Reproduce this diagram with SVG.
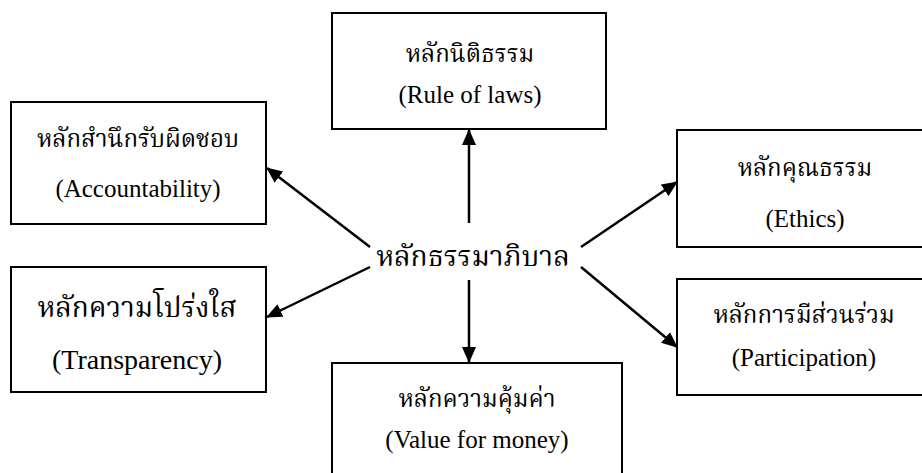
<svg xmlns="http://www.w3.org/2000/svg" width="922" height="473" viewBox="0 0 922 473">
<style>
.box{fill:#fff;stroke:#000;stroke-width:2}
.th{font-family:"Liberation Serif","Noto Serif Thai","Noto Sans Thai",serif;font-size:24px;fill:#000;text-anchor:middle}
.en{font-family:"Liberation Serif",serif;font-size:25px;fill:#000;text-anchor:middle}
.con{stroke:#000;stroke-width:2.5;fill:none;marker-end:url(#ah)}
</style>
<defs>
<marker id="ah" markerUnits="userSpaceOnUse" markerWidth="16" markerHeight="14" refX="15" refY="7" orient="auto" viewBox="0 0 16 14">
<path d="M0,0 L16,7 L0,14 z" fill="#000"/>
</marker>
</defs>
<rect width="922" height="473" fill="#fff"/>
<g id="center"><text class="th" x="473" y="266" style="font-size:28px">หลักธรรมาภิบาล</text></g>
<g id="rule"><rect class="box" x="332" y="13" width="274" height="116"/><text class="th" x="470" y="62">หลักนิติธรรม</text><text class="en" x="470" y="103">(Rule of laws)</text></g>
<g id="account"><rect class="box" x="11" y="102" width="255" height="122"/><text class="th" x="138" y="147">หลักสำนึกรับผิดชอบ</text><text class="en" x="138" y="197">(Accountability)</text></g>
<g id="transp"><rect class="box" x="11" y="267" width="255" height="125"/><text class="th" x="137" y="317" style="font-size:28px">หลักความโปร่งใส</text><text class="en" x="137" y="369" style="font-size:28px">(Transparency)</text></g>
<g id="ethics"><rect class="box" x="677" y="130" width="260" height="117"/><text class="th" x="805" y="176">หลักคุณธรรม</text><text class="en" x="805" y="227">(Ethics)</text></g>
<g id="particip"><rect class="box" x="677" y="279" width="260" height="116"/><text class="th" x="804" y="323">หลักการมีส่วนร่วม</text><text class="en" x="804" y="366">(Participation)</text></g>
<g id="value"><rect class="box" x="332" y="363" width="290" height="130"/><text class="th" x="477" y="407">หลักความคุ้มค่า</text><text class="en" x="477" y="448">(Value for money)</text></g>
<g id="connectors">
<line class="con" x1="469" y1="223" x2="469" y2="130"/>
<line class="con" x1="469" y1="280" x2="469" y2="362"/>
<line class="con" x1="370" y1="247" x2="267" y2="168"/>
<line class="con" x1="370" y1="267" x2="267" y2="317"/>
<line class="con" x1="581" y1="247" x2="677" y2="182"/>
<line class="con" x1="581" y1="267" x2="677" y2="347"/>
</g>
</svg>
